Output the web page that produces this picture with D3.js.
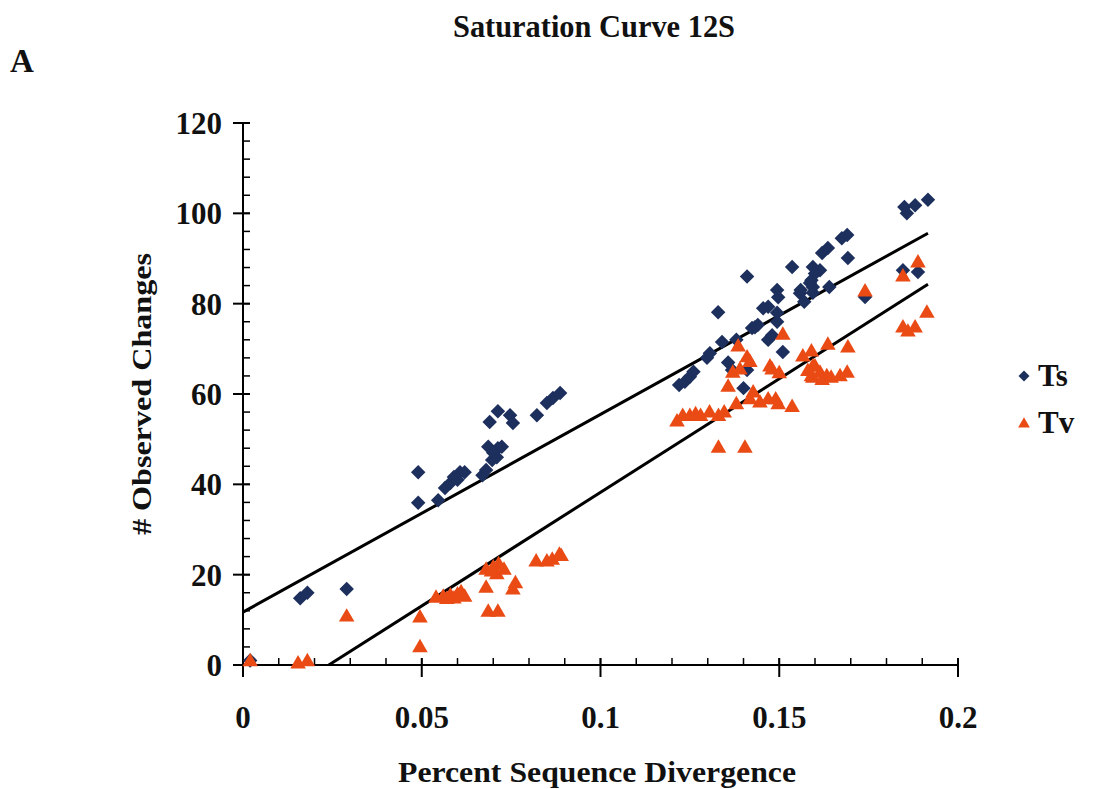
<!DOCTYPE html>
<html>
<head>
<meta charset="utf-8">
<script src="https://cdn.jsdelivr.net/npm/d3@7"></script>
<style>
    body { margin: 0; background: #fff; }
    text { font-family: "Liberation Serif", "Times New Roman", Times, serif; font-weight: bold; fill: #111; }
</style>
</head>
<body>
<svg width="1104" height="789"></svg>
<script>
// Ts (transitions) - [divergence, changes]
const tsData = [
    [0.002, 1.0],
    [0.016, 14.8], [0.018, 16.0], [0.029, 16.8],
    [0.049, 35.9], [0.049, 42.7], [0.0546, 36.5],
    [0.0565, 39.2], [0.058, 40.3], [0.059, 41.6], [0.0607, 42.7], [0.062, 42.7], [0.060, 41.0],
    [0.067, 42.0], [0.068, 43.2],
    [0.0686, 48.3], [0.0713, 48.0], [0.0724, 48.3], [0.0697, 45.4], [0.071, 46.0], [0.070, 47.0],
    [0.069, 53.8], [0.0713, 56.2], [0.0747, 55.3], [0.0755, 53.6],
    [0.0822, 55.3], [0.085, 58.0], [0.0867, 59.1], [0.0887, 60.2],
    [0.122, 62.0], [0.1236, 62.7], [0.125, 63.8], [0.126, 64.9],
    [0.1298, 68.0], [0.1306, 69.0], [0.1329, 78.1], [0.134, 71.5],
    [0.1357, 67.0], [0.1368, 65.3], [0.138, 72.0], [0.140, 61.3],
    [0.141, 86.0], [0.141, 65.3],
    [0.1424, 74.6], [0.1432, 74.8], [0.144, 75.3],
    [0.1455, 79.0], [0.1469, 79.3], [0.1469, 72.0], [0.148, 73.0],
    [0.1494, 76.0], [0.1494, 78.0], [0.1494, 83.0], [0.1497, 81.4],
    [0.151, 69.3], [0.1536, 88.1], [0.1558, 82.3], [0.157, 80.4],
    [0.159, 85.2], [0.1594, 88.1], [0.1594, 83.7], [0.1614, 87.4], [0.160, 86.7],
    [0.1586, 84.6], [0.164, 83.7], [0.156, 83.0], [0.1594, 82.4],
    [0.162, 91.2], [0.1636, 92.3], [0.1675, 94.5], [0.169, 95.2], [0.1692, 90.1],
    [0.174, 81.5], [0.1846, 87.4], [0.1888, 87.0],
    [0.1857, 100.0], [0.185, 101.4], [0.188, 101.8], [0.1916, 103.0]
];

// Tv (transversions)
const tvData = [
    [0.002, 0.7], [0.0154, 0.2], [0.018, 0.7],
    [0.029, 10.6], [0.0495, 10.4], [0.0495, 3.8],
    [0.054, 14.8], [0.056, 15.0], [0.058, 15.3], [0.059, 14.6], [0.060, 15.5], [0.061, 16.0], [0.062, 15.0], [0.057, 14.5],
    [0.068, 21.0], [0.0695, 20.6], [0.071, 20.0], [0.0715, 22.2], [0.073, 21.0], [0.070, 21.5],
    [0.068, 17.0], [0.0686, 11.7], [0.0713, 11.7], [0.0755, 16.6], [0.0762, 18.0],
    [0.082, 22.8], [0.085, 22.8], [0.0865, 23.2], [0.0885, 24.3], [0.089, 24.0],
    [0.1214, 53.8], [0.123, 55.0], [0.125, 55.0], [0.1266, 55.4], [0.128, 55.0], [0.1305, 55.8], [0.133, 55.0], [0.1346, 55.8],
    [0.133, 48.0], [0.1404, 48.0],
    [0.138, 57.6], [0.1418, 58.7], [0.1446, 58.0], [0.1469, 58.7], [0.149, 58.7], [0.1497, 57.6], [0.1536, 57.0],
    [0.1357, 61.5], [0.1427, 60.2], [0.1385, 70.4], [0.141, 68.0],
    [0.137, 64.6], [0.139, 65.3], [0.1418, 67.0], [0.151, 73.0],
    [0.1474, 66.0], [0.148, 65.3], [0.150, 64.5],
    [0.1566, 68.2], [0.159, 69.3], [0.1594, 66.0], [0.158, 65.0], [0.1594, 63.5],
    [0.160, 66.0], [0.1614, 64.6], [0.1633, 63.8], [0.159, 63.8], [0.162, 63.0], [0.1645, 63.5],
    [0.1636, 70.8], [0.1692, 70.2], [0.167, 63.8], [0.169, 64.6],
    [0.174, 82.6], [0.1846, 74.6], [0.186, 73.7], [0.188, 74.6], [0.1913, 77.9],
    [0.1846, 85.9], [0.1888, 89.0]
];

// linear fits, as end points
const tsLine = [[0, 11.7], [0.1916, 95.6]];
const tvLine = [[0.024, 0], [0.1916, 84.3]];

const xTicks = [0, 0.05, 0.1, 0.15, 0.2];
const yTicks = [0, 20, 40, 60, 80, 100, 120];

const tsColor = "#1d2f5c";
const tvColor = "#ea4a14";

const svg = d3.select("svg");

const x = d3.scaleLinear().domain([0, 0.2]).range([243, 958]);
const y = d3.scaleLinear().domain([0, 120]).range([665, 123]);

// axes: minor ticks inside, major ticks crossing
const xAxis = svg.append("g").attr("class", "x-axis");
xAxis.append("line")
     .attr("x1", x(0)).attr("x2", x(0.2))
     .attr("y1", y(0)).attr("y2", y(0))
     .attr("stroke", "#000").attr("stroke-width", 2);
xAxis.selectAll(".minor")
     .data(d3.range(1, 20).map(i => i / 100))
     .join("line")
       .attr("x1", d => x(d)).attr("x2", d => x(d))
       .attr("y1", y(0)).attr("y2", y(0) - 7)
       .attr("stroke", "#000").attr("stroke-width", 1.5);
xAxis.selectAll(".major")
     .data(xTicks)
     .join("line")
       .attr("x1", d => x(d)).attr("x2", d => x(d))
       .attr("y1", y(0) - 7).attr("y2", y(0) + 12)
       .attr("stroke", "#000").attr("stroke-width", 2);
xAxis.selectAll("text")
     .data(xTicks)
     .join("text")
       .attr("x", d => x(d))
       .attr("y", 728)
       .attr("text-anchor", "middle")
       .attr("font-size", 31)
       .text(d => d);

const yAxis = svg.append("g").attr("class", "y-axis");
yAxis.append("line")
     .attr("x1", x(0)).attr("x2", x(0))
     .attr("y1", y(0) + 12).attr("y2", y(120))
     .attr("stroke", "#000").attr("stroke-width", 2);
yAxis.selectAll(".minor")
     .data(d3.range(4, 120, 4))
     .join("line")
       .attr("x1", x(0)).attr("x2", x(0) + 7)
       .attr("y1", d => y(d)).attr("y2", d => y(d))
       .attr("stroke", "#000").attr("stroke-width", 1.5);
yAxis.selectAll(".major")
     .data(yTicks)
     .join("line")
       .attr("x1", x(0) - 10).attr("x2", x(0) + 7)
       .attr("y1", d => y(d)).attr("y2", d => y(d))
       .attr("stroke", "#000").attr("stroke-width", 2);
yAxis.selectAll("text")
     .data(yTicks)
     .join("text")
       .attr("x", 222)
       .attr("y", d => y(d) + 11)
       .attr("text-anchor", "end")
       .attr("font-size", 31)
       .text(d => d);

// trend lines
const line = d3.line().x(d => x(d[0])).y(d => y(d[1]));
svg.selectAll(".fit")
   .data([tsLine, tvLine])
   .join("path")
     .attr("class", "fit")
     .attr("d", line)
     .attr("fill", "none")
     .attr("stroke", "#000")
     .attr("stroke-width", 3);

// points
const diamond = d3.symbol(d3.symbolSquare, 105);
const triangle = d3.symbol(d3.symbolTriangle, 105);

svg.append("g").selectAll("path")
   .data(tsData)
   .join("path")
     .attr("d", diamond)
     .attr("transform", d => `translate(${x(d[0])},${y(d[1])}) rotate(45)`)
     .attr("fill", tsColor);

svg.append("g").selectAll("path")
   .data(tvData)
   .join("path")
     .attr("d", triangle)
     .attr("transform", d => `translate(${x(d[0])},${y(d[1])})`)
     .attr("fill", tvColor);

// legend
const legend = svg.append("g").attr("transform", "translate(1024,0)");
legend.append("path")
      .attr("d", d3.symbol(d3.symbolSquare, 60))
      .attr("transform", "translate(0,376) rotate(45)")
      .attr("fill", tsColor);
legend.append("path")
      .attr("d", d3.symbol(d3.symbolTriangle, 60))
      .attr("transform", "translate(0,424)")
      .attr("fill", tvColor);
legend.append("text").attr("x", 14).attr("y", 386).attr("font-size", 31).text("Ts");
legend.append("text").attr("x", 14).attr("y", 433).attr("font-size", 31).text("Tv");

// titles
svg.append("text")
   .attr("x", 594).attr("y", 37)
   .attr("text-anchor", "middle")
   .attr("font-size", 31)
   .attr("textLength", 282).attr("lengthAdjust", "spacingAndGlyphs")
   .text("Saturation Curve 12S");

svg.append("text")
   .attr("x", 10).attr("y", 72)
   .attr("font-size", 33)
   .text("A");

svg.append("text")
   .attr("x", 597).attr("y", 782)
   .attr("text-anchor", "middle")
   .attr("font-size", 29)
   .attr("textLength", 398).attr("lengthAdjust", "spacingAndGlyphs")
   .text("Percent Sequence Divergence");

svg.append("text")
   .attr("transform", "translate(151,394) rotate(-90)")
   .attr("text-anchor", "middle")
   .attr("font-size", 27)
   .attr("textLength", 282).attr("lengthAdjust", "spacingAndGlyphs")
   .text("# Observed Changes");
</script>
</body>
</html>
